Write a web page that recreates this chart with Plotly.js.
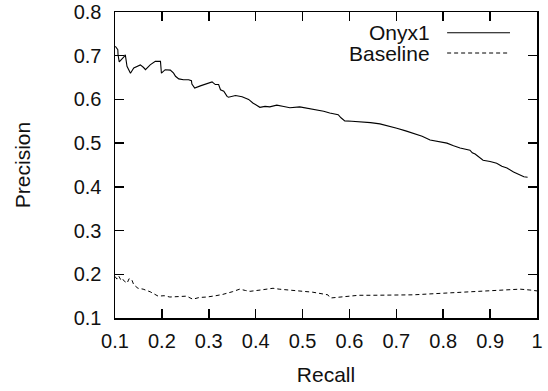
<!DOCTYPE html>
<html>
<head>
<meta charset="utf-8">
<script src="https://cdn.plot.ly/plotly-3.0.1.min.js"></script>
<style>html,body{margin:0;padding:0;background:#fff;}#chart{width:548px;height:391px;}</style>
</head>
<body>
<div id="chart"></div>
<script>
const onyxRecall = [0.1006,0.106,0.1065,0.109,0.1185,0.122,0.1256,0.133,0.140,0.147,0.154,0.161,0.165,0.175,0.186,0.197,0.199,0.207,0.218,0.225,0.229,0.236,0.246,0.257,0.263,0.264,0.270,0.282,0.296,0.307,0.314,0.321,0.325,0.332,0.339,0.342,0.357,0.371,0.385,0.394,0.409,0.420,0.430,0.445,0.460,0.473,0.494,0.510,0.530,0.545,0.558,0.576,0.582,0.590,0.605,0.622,0.645,0.665,0.685,0.701,0.720,0.736,0.755,0.772,0.790,0.808,0.822,0.836,0.857,0.862,0.868,0.885,0.900,0.914,0.925,0.936,0.950,0.964,0.972,0.980];
const onyxPrecision = [0.7215,0.714,0.702,0.686,0.697,0.702,0.676,0.660,0.672,0.676,0.679,0.673,0.668,0.679,0.687,0.687,0.660,0.668,0.667,0.660,0.653,0.647,0.645,0.645,0.643,0.635,0.626,0.631,0.637,0.640,0.634,0.634,0.622,0.619,0.607,0.605,0.609,0.606,0.600,0.592,0.582,0.584,0.583,0.587,0.584,0.581,0.583,0.580,0.576,0.573,0.569,0.565,0.558,0.551,0.550,0.549,0.547,0.544,0.539,0.534,0.528,0.523,0.516,0.507,0.504,0.500,0.494,0.489,0.484,0.478,0.475,0.461,0.458,0.454,0.447,0.443,0.434,0.427,0.423,0.422];
const baseRecall = [0.100,0.104,0.108,0.112,0.115,0.120,0.126,0.130,0.136,0.140,0.149,0.160,0.175,0.185,0.192,0.205,0.217,0.235,0.253,0.260,0.266,0.280,0.296,0.315,0.330,0.350,0.366,0.378,0.388,0.410,0.437,0.450,0.467,0.490,0.522,0.554,0.558,0.562,0.594,0.620,0.650,0.700,0.736,0.770,0.808,0.840,0.878,0.920,0.964,0.985,1.000];
const basePrecision = [0.195,0.189,0.196,0.188,0.191,0.184,0.180,0.190,0.187,0.176,0.168,0.166,0.160,0.155,0.150,0.151,0.148,0.149,0.150,0.146,0.143,0.147,0.148,0.151,0.154,0.160,0.166,0.163,0.161,0.164,0.168,0.166,0.164,0.162,0.159,0.153,0.147,0.146,0.149,0.152,0.152,0.152,0.153,0.155,0.157,0.159,0.161,0.163,0.166,0.164,0.162];
const xTicks = [0.1,0.2,0.3,0.4,0.5,0.6,0.7,0.8,0.9,1];
const xTickText = ['0.1','0.2','0.3','0.4','0.5','0.6','0.7','0.8','0.9','1'];
const yTicks = [0.1,0.2,0.3,0.4,0.5,0.6,0.7,0.8];
const yTickText = ['0.1','0.2','0.3','0.4','0.5','0.6','0.7','0.8'];
const seriesNames = ['Onyx1','Baseline'];

const FONT = '"Liberation Sans", Arial, sans-serif';
const TEXT = '#111';
const traces = [
  {x: onyxRecall, y: onyxPrecision, name: seriesNames[0], type: 'scatter', mode: 'lines',
   line: {color: '#000', width: 1.1}},
  {x: baseRecall, y: basePrecision, name: seriesNames[1], type: 'scatter', mode: 'lines',
   line: {color: '#000', width: 1, dash: '4px,3px'}}
];
const axisCommon = {
  showgrid: false, zeroline: false, showline: true, linecolor: '#000', linewidth: 1.5,
  mirror: 'ticks', ticks: 'inside', ticklen: 9, tickwidth: 1.5, tickcolor: '#000',
  tickfont: {family: FONT, size: 20, color: TEXT}
};
const layout = {
  width: 548, height: 391,
  margin: {l: 115, r: 11, t: 12, b: 73, pad: 0},
  paper_bgcolor: '#fff', plot_bgcolor: '#fff',
  showlegend: false,
  xaxis: Object.assign({}, axisCommon, {range: [0.1, 1], tickvals: xTicks, ticktext: xTickText,
    ticklabelstandoff: 4,
    title: {text: 'Recall', font: {family: FONT, size: 21, color: TEXT}, standoff: 17}}),
  yaxis: Object.assign({}, axisCommon, {range: [0.1, 0.8], tickvals: yTicks, ticktext: yTickText,
    ticklabelstandoff: 8,
    title: {text: 'Precision', font: {family: FONT, size: 21, color: TEXT}, standoff: 37}}),
  annotations: [
    {xref: 'paper', yref: 'paper', x: 0.751, y: 0.932, xanchor: 'right', yanchor: 'middle',
     text: seriesNames[0], showarrow: false, font: {family: FONT, size: 21, color: TEXT}},
    {xref: 'paper', yref: 'paper', x: 0.751, y: 0.866, xanchor: 'right', yanchor: 'middle',
     text: seriesNames[1], showarrow: false, font: {family: FONT, size: 21, color: TEXT}}
  ],
  shapes: [
    {type: 'line', xref: 'paper', yref: 'paper', x0: 0.787, x1: 0.936, y0: 0.932, y1: 0.932,
     line: {color: '#000', width: 1.1}},
    {type: 'line', xref: 'paper', yref: 'paper', x0: 0.787, x1: 0.936, y0: 0.866, y1: 0.866,
     line: {color: '#000', width: 1, dash: '4px,3px'}}
  ]
};
Plotly.newPlot('chart', traces, layout, {staticPlot: true, displayModeBar: false});
</script>
</body>
</html>
